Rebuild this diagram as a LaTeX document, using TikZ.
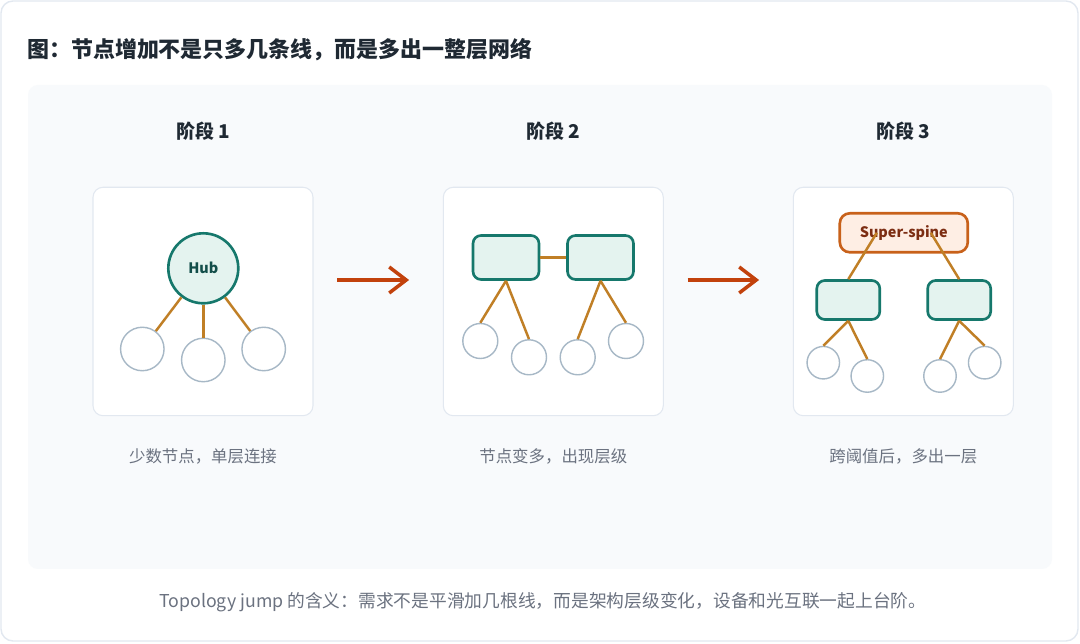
\documentclass[tikz,border=0pt]{standalone}
\usepackage{fontspec}
\setmainfont{Noto Sans CJK SC}
\usepackage{xcolor}
\usepackage{tikz}
\usetikzlibrary{positioning, arrows.meta, calc}
\definecolor{cardline}{HTML}{E2E8F0}
\definecolor{panelfill}{HTML}{F8FAFC}
\definecolor{titleink}{HTML}{1F2933}
\definecolor{noteink}{HTML}{6B7280}
\definecolor{tealline}{HTML}{16786C}
\definecolor{tealfill}{HTML}{E4F3EF}
\definecolor{tealink}{HTML}{134E4A}
\definecolor{linkcol}{HTML}{C07F26}
\definecolor{leafline}{HTML}{A7B8C6}
\definecolor{jumpcol}{HTML}{C2410C}
\definecolor{spineline}{HTML}{C8611A}
\definecolor{spinefill}{HTML}{FEEEE4}
\definecolor{spineink}{HTML}{7C2D12}
\tikzset{
  stagebox/.style={
    rectangle,
    draw=cardline,
    fill=white,
    rounded corners=2mm,
    line width=0.6pt,
    minimum width=44mm,
    minimum height=45.7mm
  },
  stagetitle/.style={
    font=\fontsize{10.8}{13}\selectfont\bfseries,
    text=titleink
  },
  stagenote/.style={
    font=\fontsize{9.35}{11}\selectfont,
    text=noteink
  },
  hubnode/.style={
    circle,
    draw=tealline,
    fill=tealfill,
    line width=1.5pt,
    minimum size=14mm,
    inner sep=0pt,
    font=\fontsize{8.2}{10}\selectfont\bfseries,
    text=tealink
  },
  switchnode/.style={
    rectangle,
    draw=tealline,
    fill=tealfill,
    rounded corners=1.6mm,
    line width=1.5pt,
    minimum width=13.2mm,
    minimum height=8.8mm,
    inner sep=0pt
  },
  spinenode/.style={
    rectangle,
    draw=spineline,
    fill=spinefill,
    rounded corners=2mm,
    line width=1.5pt,
    minimum width=25.6mm,
    minimum height=7.8mm,
    inner sep=0pt,
    font=\fontsize{8.2}{10}\selectfont\bfseries,
    text=spineink
  },
  leafnode/.style={
    circle,
    draw=leafline,
    fill=white,
    line width=0.8pt,
    inner sep=0pt
  },
  link/.style={
    draw=linkcol,
    line width=1.4pt
  },
  jumparrow/.style={
    draw=jumpcol,
    line width=2pt,
    -{Straight Barb[length=3.4mm, width=5.2mm, line width=2pt]},
    shorten <=4.74mm,
    shorten >=6.74mm
  }
}
\begin{document}
\begin{tikzpicture}[x=0.02cm, y=-0.02cm]
  \useasboundingbox (0,0) rectangle (1080,644);
  \draw[draw=cardline, fill=white, line width=0.8pt, rounded corners=2.4mm] (1,1) rectangle (1078,641);
  \fill[panelfill, rounded corners=2mm] (28,85) rectangle (1052,569);

  \node[anchor=west, font=\fontsize{12.5}{15}\selectfont\bfseries, text=titleink] (title) at (21,50)
    {图：节点增加不是只多几条线，而是多出一整层网络};

  \node[stagebox] (frame1) at (203,301.5) {};
  \node[stagebox] (frame2) at (553.3,301.5) {};
  \node[stagebox] (frame3) at (903.3,301.5) {};

  \node[stagetitle] (head1) at (203,131) {阶段 1};
  \node[stagetitle] (head2) at (553.3,131) {阶段 2};
  \node[stagetitle] (head3) at (903.3,131) {阶段 3};

  \node[stagenote] (note1) at (203,456) {少数节点，单层连接};
  \node[stagenote] (note2) at (553.3,456) {节点变多，出现层级};
  \node[stagenote] (note3) at (903.3,456) {跨阈值后，多出一层};

  \node[hubnode] (hub) at (203.3,268.3) {Hub};
  \node[leafnode, minimum size=8.7mm] (leafa) at (142.3,349) {};
  \node[leafnode, minimum size=8.7mm] (leafb) at (203.3,360) {};
  \node[leafnode, minimum size=8.7mm] (leafc) at (263.7,349) {};
  \draw[link] (hub) -- (leafa);
  \draw[link] (hub) -- (leafb);
  \draw[link] (hub) -- (leafc);

  \node[switchnode] (swa) at (506,257.5) {};
  \node[switchnode] (swb) at (600.5,257.5) {};
  \node[leafnode, minimum size=7mm] (leafd) at (480.3,341) {};
  \node[leafnode, minimum size=7mm] (leafe) at (529,357.3) {};
  \node[leafnode, minimum size=7mm] (leaff) at (577.7,357.3) {};
  \node[leafnode, minimum size=7mm] (leafg) at (626,341) {};
  \draw[link] (swa.east) -- (swb.west);
  \draw[link] (swa.south) -- (leafd.north);
  \draw[link] (swa.south) -- (leafe.north);
  \draw[link] (swb.south) -- (leaff.north);
  \draw[link] (swb.south) -- (leafg.north);

  \node[spinenode] (spine) at (903.8,232.8) {Super-spine};
  \node[switchnode, minimum width=12.6mm, minimum height=7.8mm] (agga) at (848.3,300) {};
  \node[switchnode, minimum width=12.6mm, minimum height=7.8mm] (aggb) at (959.2,300) {};
  \node[leafnode, minimum size=6.5mm] (leafh) at (823.3,362.7) {};
  \node[leafnode, minimum size=6.5mm] (leafi) at (867.3,376) {};
  \node[leafnode, minimum size=6.5mm] (leafj) at (940,376) {};
  \node[leafnode, minimum size=6.5mm] (leafk) at (984.7,362.7) {};
  \draw[link] ([xshift=-5.4mm]spine.center) -- (agga.north);
  \draw[link] ([xshift=5.4mm]spine.center) -- (aggb.north);
  \draw[link] (agga.south) -- (leafh.north);
  \draw[link] (agga.south) -- (leafi.north);
  \draw[link] (aggb.south) -- (leafj.north);
  \draw[link] (aggb.south) -- (leafk.north);

  \draw[jumparrow] ([yshift=4.3mm]frame1.east) -- ([yshift=4.3mm]frame2.west);
  \draw[jumparrow] ([yshift=4.3mm]frame2.east) -- ([yshift=4.3mm]frame3.west);

  \node[anchor=west, font=\fontsize{10.1}{12}\selectfont, text=noteink] (caption) at (153,602)
    {Topology jump 的含义：需求不是平滑加几根线，而是架构层级变化，设备和光互联一起上台阶。};
\end{tikzpicture}
\end{document}
